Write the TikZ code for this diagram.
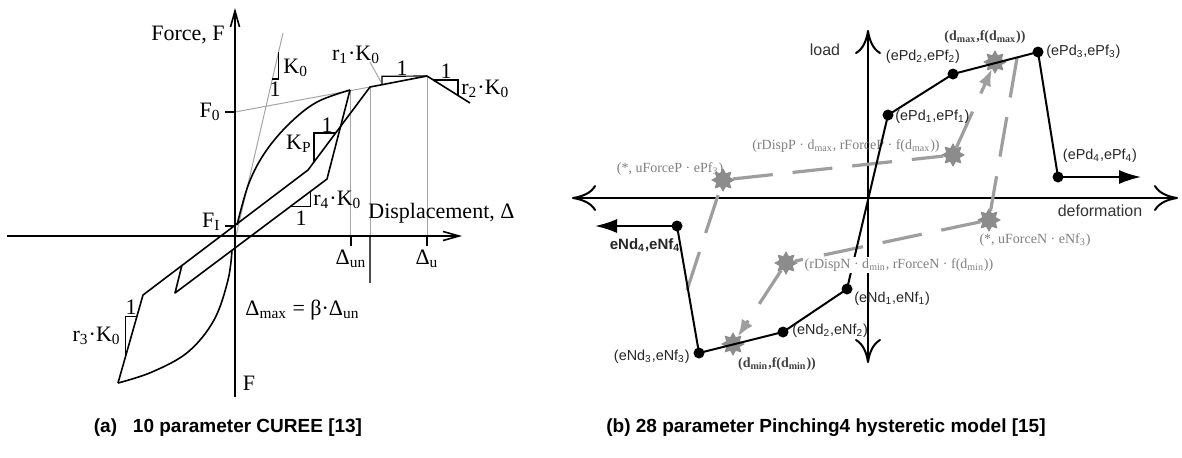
\documentclass[tikz,border=0pt]{standalone}
\usepackage{fontspec}
\setmainfont{Liberation Serif}
\newfontfamily\arialf{Liberation Sans}
\usetikzlibrary{arrows.meta,shapes.geometric}
\newcommand\sbs[1]{\textsubscript{#1}}
\begin{document}
\begin{tikzpicture}[x=0.5pt,y=-0.5pt,
  blk/.style={line width=0.8pt,black,line join=round},
  gl/.style={line width=0.5pt,black!35},
  tri/.style={line width=0.6pt,black},
  lab/.style={font=\fontsize{11}{12}\selectfont,inner sep=1pt},
  rax/.style={line width=1pt,black,{Computer Modern Rightarrow[length=12pt,width=13pt]}-{Computer Modern Rightarrow[length=12pt,width=13pt]}},
  bl/.style={line width=1pt,black},
  dot/.style={circle,fill=black,inner sep=0pt,minimum size=5.5pt},
  starn/.style={star,star points=8,star point ratio=1.6,fill=black!45,draw=black!45,inner sep=0pt,minimum size=11pt},
  gdash/.style={line width=1.6pt,black!38,dash pattern=on 20pt off 10pt},
  slab/.style={font=\arialf\fontsize{7.2}{9}\selectfont,inner sep=1pt,text=black!85},
  glab/.style={font=\fontsize{7}{8}\selectfont,inner sep=1pt,text=black!50},
  bslab/.style={font=\bfseries\fontsize{7}{8}\selectfont,inner sep=1pt,text=black!75},
  captext/.style={font=\arialf\bfseries\fontsize{9.5}{11}\selectfont,inner sep=0pt}]
\useasboundingbox (0,0) rectangle (1182,457);
\fill[white] (0,0) rectangle (1182,457);

% ---------------- (a) CUREE ----------------
\coordinate (xl) at (7,236); \coordinate (xr) at (462,236);
\coordinate (yb) at (235,397); \coordinate (yt) at (235,8);
\coordinate (P1) at (118,383); \coordinate (P2) at (143,295);
\coordinate (P3) at (308,170); \coordinate (P4) at (370,87);
\coordinate (P5) at (427,76);  \coordinate (P6) at (470,103);
\coordinate (Q1) at (350,90);  \coordinate (Q2) at (327,179);
\coordinate (Q3) at (175,293); \coordinate (Q4) at (182,265);

% gray guide lines
\draw[gl] (236,236) -- (283,33);
\draw[gl] (235,112) -- (370,87);
\draw[gl] (350,90) -- (350,236);
\draw[gl] (370,87) -- (370,236);
\draw[gl] (427,76) -- (427,236);
\draw[gl] (370,62) -- (381,82);
\draw[line width=0.6pt,black!70] (370,236) -- (370,283);

% axes
\draw[blk,-{Straight Barb[length=8pt,width=4.5pt]}] (xl) -- (xr);
\draw[blk,-{Straight Barb[length=8pt,width=4.5pt]}] (yb) -- (yt);
% ticks
\draw[blk] (225,112) -- (235,112);
\draw[blk] (225,226) -- (235,226);
\draw[blk] (351,236) -- (351,246);
\draw[blk] (427,236) -- (427,246);

% curves
\draw[blk] plot[smooth,tension=0.6] coordinates {(237,225) (249,183) (266,151) (290,123) (317,102) (350,90)};
\draw[blk] (Q1) -- (Q2) -- (Q3) -- (Q4);
\draw[blk] (P1) -- (P2) -- (P3) -- (P4) -- (P5) -- (P6);
\draw[blk] plot[smooth,tension=0.6] coordinates {(232,250) (228,280) (214,320) (188,352) (152,372) (118,383)};

% slope triangles
\draw[tri] (278.6,52) -- (278.6,79) -- (272.3,79);
\draw[tri] (382,84.7) -- (382,76.3) -- (427,76);
\draw[tri] (433,80) -- (458,80) -- (458,95.5);
\draw[tri] (314,162) -- (314,133) -- (335.6,133);
\draw[tri] (290,206.7) -- (310.7,206.7) -- (310.7,191.2);
\draw[tri] (125.7,356) -- (125.7,316.7) -- (136.8,316.7);

% labels
\node[lab] (force) at (188,35) {Force, F};
\node[lab,anchor=east] (f0) at (223,112) {F\sbs{0}};
\node[lab,anchor=east] (fi) at (223,222) {F\sbs{I}};
\node[lab,anchor=west] (k0) at (281,68) {K\sbs{0}};
\node[lab] (one1) at (275,89) {1};
\node[lab] (r1) at (356,55) {r\sbs{1}·K\sbs{0}};
\node[lab] (one2) at (402,68) {1};
\node[lab] (one3) at (446,71) {1};
\node[lab,anchor=west] (r2) at (459,89) {r\sbs{2}·K\sbs{0}};
\node[lab] (one4) at (327,125) {1};
\node[lab,anchor=east] (kp) at (314,144) {K\sbs{P}};
\node[lab,anchor=west] (r4) at (311,200) {r\sbs{4}·K\sbs{0}};
\node[lab] (one5) at (301,218) {1};
\node[lab,anchor=east] (r3) at (123,336) {r\sbs{3}·K\sbs{0}};
\node[lab] (one6) at (131,307) {1};
\node[lab,anchor=west] (disp) at (366,213) {Displacement, Δ};
\node[lab] (dun) at (351,259) {Δ\sbs{un}};
\node[lab] (du) at (427,259) {Δ\sbs{u}};
\node[lab,anchor=west] (dmax) at (243,310) {Δ\sbs{max} = β·Δ\sbs{un}};
\node[lab] (fb) at (249,383) {F};

% ---------------- (b) Pinching4 ----------------
\draw[rax] (572,198) -- (1178,198);
\draw[rax] (868,363) -- (868,30);
\node[font=\arialf\fontsize{8}{9}\selectfont,text=black!80] (load) at (825,50) {load};
\node[font=\arialf\fontsize{8}{9}\selectfont,text=black!80] (deform) at (1100,211) {deformation};

% stars
\node[starn] (S1) at (995,62) {};
\node[starn] (S2) at (953,155) {};
\node[starn] (S3) at (723,180) {};
\node[starn] (S4) at (989,220) {};
\node[starn] (S5) at (786,263) {};
\node[starn] (S6) at (733,344) {};
\coordinate (c1) at (1017,58);
\coordinate (c2) at (687,290);

% gray dashed paths
\draw[gdash] (S3) -- (S2);
\draw[gdash,-{Latex[length=8.5pt,width=6.5pt]}] (S2) -- (S1);
\draw[gdash] (c1) -- (S4);
\draw[gdash] (S4) -- (S5);
\draw[gdash,-{Latex[length=8.5pt,width=6.5pt]}] (S5) -- (S6);
\draw[gdash] (c2) -- (S3);

\node[glab] (rdp) at (846,146) {(rDispP · d\sbs{max}, rForceP · f(d\sbs{max}))};

% backbone points
\node[dot] (ePd1) at (888,115) {};
\node[dot] (ePd2) at (953,74) {};
\node[dot] (ePd3) at (1038,52) {};
\node[dot] (ePd4) at (1058,177) {};
\node[dot] (eNd1) at (847,289) {};
\node[dot] (eNd2) at (783,332) {};
\node[dot] (eNd3) at (699,353) {};
\node[dot] (eNd4) at (677,226) {};
\coordinate (aP) at (1141,177);
\coordinate (aN) at (595,226);

\draw[bl] (eNd1.center) -- (ePd1.center) -- (ePd2.center) -- (ePd3.center) -- (ePd4.center);
\draw[bl,-{Latex[length=11pt,width=7pt]}] (ePd4.center) -- (aP);
\draw[bl] (eNd1.center) -- (eNd2.center) -- (eNd3.center) -- (eNd4.center);
\draw[bl,-{Latex[length=11pt,width=7pt]}] (eNd4.center) -- (aN);

\node[glab,fill=white] (rdn) at (899,265) {(rDispN · d\sbs{min}, rForceN · f(d\sbs{min}))};
\node[glab] (ufp) at (670,169) {(*, uForceP · ePf\sbs{3})};
\node[glab] (ufn) at (1035,240) {(*, uForceN · eNf\sbs{3})};

\node[slab,anchor=west] (l1) at (893,117) {(ePd\sbs{1},ePf\sbs{1})};
\node[slab] (l2) at (923,57) {(ePd\sbs{2},ePf\sbs{2})};
\node[slab,anchor=west] (l3) at (1044,52) {(ePd\sbs{3},ePf\sbs{3})};
\node[slab] (l4) at (1100,156) {(ePd\sbs{4},ePf\sbs{4})};
\node[slab,anchor=west] (n1) at (852,299) {(eNd\sbs{1},eNf\sbs{1})};
\node[slab,anchor=west] (n2) at (790,331) {(eNd\sbs{2},eNf\sbs{2})};
\node[slab,anchor=east] (n3) at (692,357) {(eNd\sbs{3},eNf\sbs{3})};
\node[slab,font=\arialf\bfseries\fontsize{7.5}{9}\selectfont] (n4) at (645,245) {eNd\sbs{4},eNf\sbs{4}};
\node[bslab] (lmax) at (985,37) {(d\sbs{max},f(d\sbs{max}))};
\node[bslab] (lmin) at (777,364) {(d\sbs{min},f(d\sbs{min}))};

% captions
\node[captext] (capa) at (228,428) {(a)\ \ \ 10 parameter CUREE [13]};
\node[captext] (capb) at (826,428) {(b) 28 parameter Pinching4 hysteretic model [15]};
\end{tikzpicture}
\end{document}
